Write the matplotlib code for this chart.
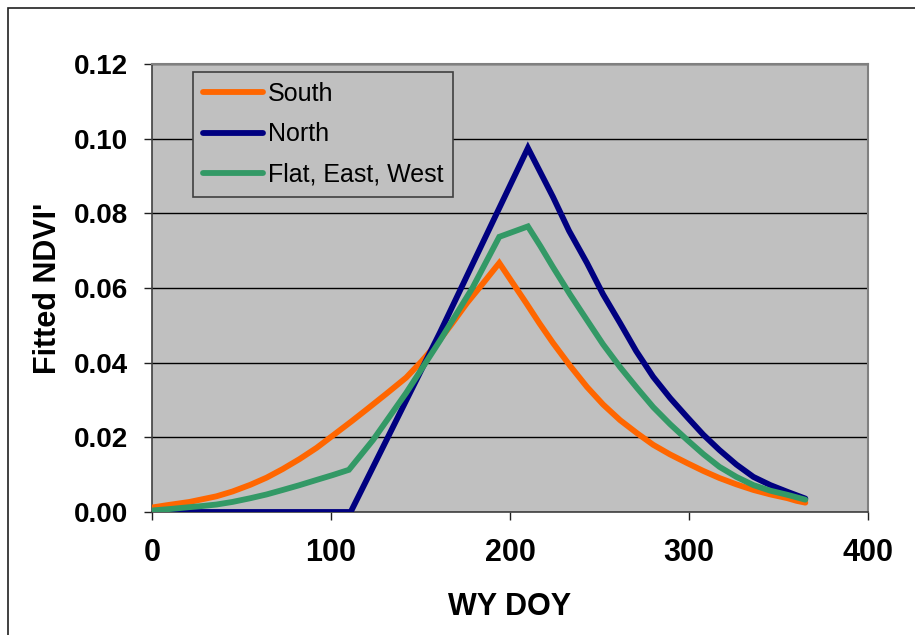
import matplotlib
matplotlib.use("Agg")
import matplotlib.pyplot as plt
from matplotlib.patches import Rectangle

# Water-year day of year and fitted NDVI' for each aspect class
south_doy = [0, 8, 21, 28, 36, 45, 55, 64, 73, 82.5, 92, 103, 111.5, 120,
             131, 142, 150.5, 159, 167.5, 176, 185, 194, 209, 216.5, 224,
             233.5, 243, 252, 261.5, 271, 280, 289.5, 299, 308, 317, 326.5,
             336, 345.5, 355, 360, 365]
south_ndvi = [0.0012, 0.0018, 0.0027, 0.0034, 0.0042, 0.0055, 0.0073, 0.0092,
              0.0115, 0.0142, 0.0172, 0.0212, 0.0243, 0.0275, 0.0317, 0.0360,
              0.0403, 0.0450, 0.0504, 0.0560, 0.0613, 0.0667, 0.0560, 0.0505,
              0.0453, 0.0392, 0.0335, 0.0288, 0.0246, 0.0211, 0.0180, 0.0154,
              0.0131, 0.0110, 0.0091, 0.0074, 0.0059, 0.0047, 0.0037, 0.0030,
              0.0025]

north_doy = [0, 111, 161, 210, 224, 233, 243, 252, 261.5, 270.5, 280, 289.5,
             299, 308, 317, 326.5, 336, 345.5, 355, 360, 365]
north_ndvi = [0.0, 0.0, 0.0482, 0.0975, 0.0844, 0.0753, 0.0667, 0.0583,
              0.0506, 0.0431, 0.0362, 0.0305, 0.0254, 0.0207, 0.0166, 0.0127,
              0.0094, 0.0072, 0.0054, 0.0045, 0.0036]

flat_doy = [0, 10, 21, 28, 36, 45, 55, 64, 73, 82.5, 92, 101, 110, 123.5,
            142, 161, 179, 194, 210, 217, 224, 233.5, 243, 252, 261.5, 271,
            280, 289.5, 299, 308, 317, 326.5, 336, 345.5, 355, 365]
flat_ndvi = [0.0004, 0.0008, 0.0013, 0.0016, 0.0020, 0.0027, 0.0037, 0.0047,
             0.0059, 0.0072, 0.0086, 0.0099, 0.0113, 0.0193, 0.0319, 0.0460,
             0.0600, 0.0737, 0.0765, 0.0712, 0.0656, 0.0583, 0.0514, 0.0449,
             0.0388, 0.0332, 0.0281, 0.0235, 0.0193, 0.0155, 0.0121, 0.0094,
             0.0072, 0.0057, 0.0046, 0.0033]

series_labels = ["South", "North", "Flat, East, West"]
series_colors = ["#FF6600", "#000080", "#339966"]

x_ticks = [0, 100, 200, 300, 400]
y_ticks = [0.00, 0.02, 0.04, 0.06, 0.08, 0.10, 0.12]

plt.rcParams["font.family"] = ["Liberation Sans", "DejaVu Sans"]

W, H = 915, 635
fig = plt.figure(figsize=(W / 100, H / 100), dpi=100)
fig.patch.set_facecolor("white")

# outer frame (runs off the right and bottom edges)
fig.patches.append(Rectangle((8 / W, -0.05), 1.2, (H - 8) / H + 0.05,
                             transform=fig.transFigure, fill=False,
                             edgecolor="#202020", linewidth=1.2))

ax = fig.add_axes([152 / W, (H - 512) / H, 716 / W, 448 / H])
ax.set_facecolor("#C0C0C0")

for doy, vals, lab, col in zip([south_doy, north_doy, flat_doy],
                               [south_ndvi, north_ndvi, flat_ndvi],
                               series_labels, series_colors):
    ax.plot(doy, vals, color=col, linewidth=4.2, label=lab,
            solid_capstyle="round", solid_joinstyle="miter", zorder=3)

ax.set_xlim(0, 400)
ax.set_ylim(0, 0.12)
ax.set_xticks(x_ticks)
ax.set_yticks(y_ticks)
ax.set_yticklabels([f"{v:.2f}" for v in y_ticks])

ax.yaxis.grid(True, color="black", linewidth=1.0, zorder=1)
ax.set_axisbelow(True)

for side in ["top", "right"]:
    ax.spines[side].set_color("#808080")
    ax.spines[side].set_linewidth(1.5)
for side in ["left", "bottom"]:
    ax.spines[side].set_color("#404040")
    ax.spines[side].set_linewidth(1.2)

ax.tick_params(axis="both", direction="out", length=6, width=1,
               color="#202020")
ax.tick_params(axis="x", labelsize=22, pad=13)
ax.tick_params(axis="y", labelsize=20, pad=11)
for lbl in ax.get_xticklabels() + ax.get_yticklabels():
    lbl.set_fontweight("bold")

ax.set_xlabel("WY DOY", fontsize=22, fontweight="bold", labelpad=17)
ax.set_ylabel("Fitted NDVI'", fontsize=22, fontweight="bold", labelpad=8)

leg = ax.legend(loc="upper left", bbox_to_anchor=(0.057, 0.982),
                borderaxespad=0, fontsize=18, frameon=True, fancybox=False,
                facecolor="#C0C0C0", edgecolor="#404040", framealpha=1,
                handlelength=2.4, handletextpad=0.2, labelspacing=0.65,
                borderpad=0.4)
leg.get_frame().set_linewidth(1.2)

fig.savefig("out.png", dpi=100)
